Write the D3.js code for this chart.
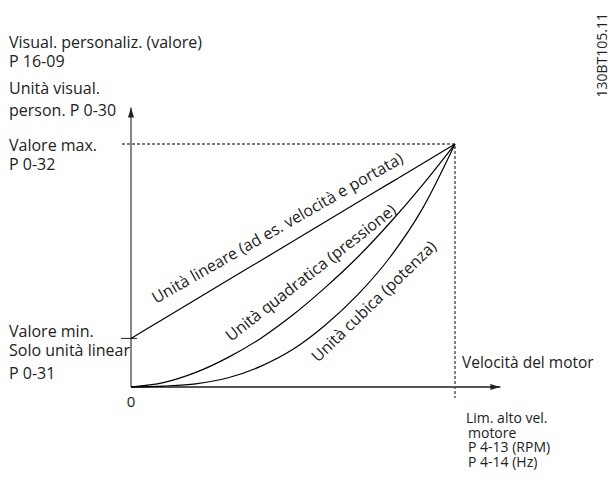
<!DOCTYPE html>
<html>
<head>
<meta charset="utf-8">
<script src="https://cdn.jsdelivr.net/npm/d3@7"></script>
<style>
  body { margin: 0; background: #fff; }
  svg { display: block; font-family: "Open Sans", "DejaVu Sans", sans-serif; }
</style>
</head>
<body>
<svg width="613" height="484"></svg>
<script>
'use strict';

// motor speed, % of high speed limit
var speed = [0, 10, 20, 30, 40, 50, 60, 70, 80, 90, 100];
// display value, % of max value
var linearValue = [20, 28, 36, 44, 52, 60, 68, 76, 84, 92, 100];
var quadraticValue = [0, 1.8, 6, 12.2, 20, 29.7, 41, 53.5, 67.7, 83.2, 100];
var cubicValue = [0, 0.4, 1.3, 3.8, 8.5, 15.5, 25.5, 38, 53.5, 73.5, 100];

var minValue = 20, maxValue = 100, maxSpeed = 100;

var leftLabels = [
	{ text: 'Visual. personaliz. (valore)', y: 48 },
	{ text: 'P 16-09', y: 67 },
	{ text: 'Unità visual.', y: 94 },
	{ text: 'person. P 0-30', y: 116 },
	{ text: 'Valore max.', y: 151 },
	{ text: 'P 0-32', y: 170 },
	{ text: 'Valore min.', y: 337 },
	{ text: 'Solo unità linear', y: 356 },
	{ text: 'P 0-31', y: 379 }
];
var limitLabels = ['Lim. alto vel.', 'motore', 'P 4-13 (RPM)', 'P 4-14 (Hz)'];
var curveLabels = [
	{ text: 'Unità lineare (ad es. velocità e portata)', x: 156, y: 304, angle: -29.8 },
	{ text: 'Unità quadratica (pressione)', x: 231, y: 342, angle: -38 },
	{ text: 'Unità cubica (potenza)', x: 318, y: 363, angle: -44 }
];

var svg = d3.select('svg');
var x = d3.scaleLinear().domain([0, 100]).range([131, 455]);
var y = d3.scaleLinear().domain([0, 100]).range([387, 144]);

var defs = svg.append('defs');
defs.append('marker')
	.attr('id', 'arrow')
	.attr('viewBox', '0 0 10 6')
	.attr('refX', 10).attr('refY', 3)
	.attr('markerWidth', 10).attr('markerHeight', 6)
	.attr('markerUnits', 'userSpaceOnUse')
	.attr('orient', 'auto')
	.append('path')
	.attr('d', 'M0,0L10,3L0,6Z')
	.attr('fill', '#222');

// dashed guides to the max point
svg.append('path')
	.attr('d', 'M' + (x(0) - 9) + ',' + y(maxValue) + 'H' + x(maxSpeed) + 'V' + (y(0) + 11))
	.attr('fill', 'none')
	.attr('stroke', '#000')
	.attr('stroke-width', 1)
	.attr('stroke-dasharray', '3,2');

// axes
svg.append('line')
	.attr('x1', x(0)).attr('y1', y(0))
	.attr('x2', x(0)).attr('y2', y(115))
	.attr('stroke', '#444').attr('stroke-width', 1.3)
	.attr('marker-end', 'url(#arrow)');
svg.append('line')
	.attr('x1', x(0)).attr('y1', y(0))
	.attr('x2', x(114)).attr('y2', y(0))
	.attr('stroke', '#555').attr('stroke-width', 1.8)
	.attr('marker-end', 'url(#arrow)');

// min value tick
svg.append('line')
	.attr('x1', x(0) - 10).attr('x2', x(0) + 6)
	.attr('y1', y(minValue)).attr('y2', y(minValue))
	.attr('stroke', '#222').attr('stroke-width', 1);

// curves
var line = d3.line()
	.x(function (d) { return x(d[0]); })
	.y(function (d) { return y(d[1]); })
	.curve(d3.curveMonotoneX);

[linearValue, quadraticValue, cubicValue].forEach(function (vals) {
	svg.append('path')
		.datum(d3.zip(speed, vals))
		.attr('d', line)
		.attr('fill', 'none')
		.attr('stroke', '#000')
		.attr('stroke-width', 1.2);
});

// texts
svg.selectAll('text.left')
	.data(leftLabels)
	.enter().append('text')
	.attr('class', 'left')
	.attr('x', 9).attr('y', function (d) { return d.y; })
	.attr('font-size', 16)
	.attr('fill', '#222')
	.text(function (d) { return d.text; });

svg.append('text')
	.attr('x', x(0)).attr('y', y(0) + 20)
	.attr('text-anchor', 'middle')
	.attr('font-size', 15).attr('fill', '#222')
	.text('0');

svg.append('text')
	.attr('x', 462).attr('y', 368)
	.attr('font-size', 15.5).attr('fill', '#222')
	.text('Velocità del motor');

svg.selectAll('text.limit')
	.data(limitLabels)
	.enter().append('text')
	.attr('class', 'limit')
	.attr('x', function (d, i) { return i === 0 ? 466 : 468; })
	.attr('y', function (d, i) { return 423 + i * 14.5; })
	.attr('font-size', 14).attr('fill', '#222')
	.text(function (d) { return d; });

svg.selectAll('text.curve')
	.data(curveLabels)
	.enter().append('text')
	.attr('class', 'curve')
	.attr('transform', function (d) { return 'translate(' + d.x + ',' + d.y + ') rotate(' + d.angle + ')'; })
	.attr('font-size', 16).attr('fill', '#222')
	.text(function (d) { return d.text; });

svg.append('text')
	.attr('transform', 'translate(607,13) rotate(-90)')
	.attr('text-anchor', 'end')
	.attr('font-size', 14).attr('fill', '#222')
	.text('130BT105.11');
</script>
</body>
</html>
